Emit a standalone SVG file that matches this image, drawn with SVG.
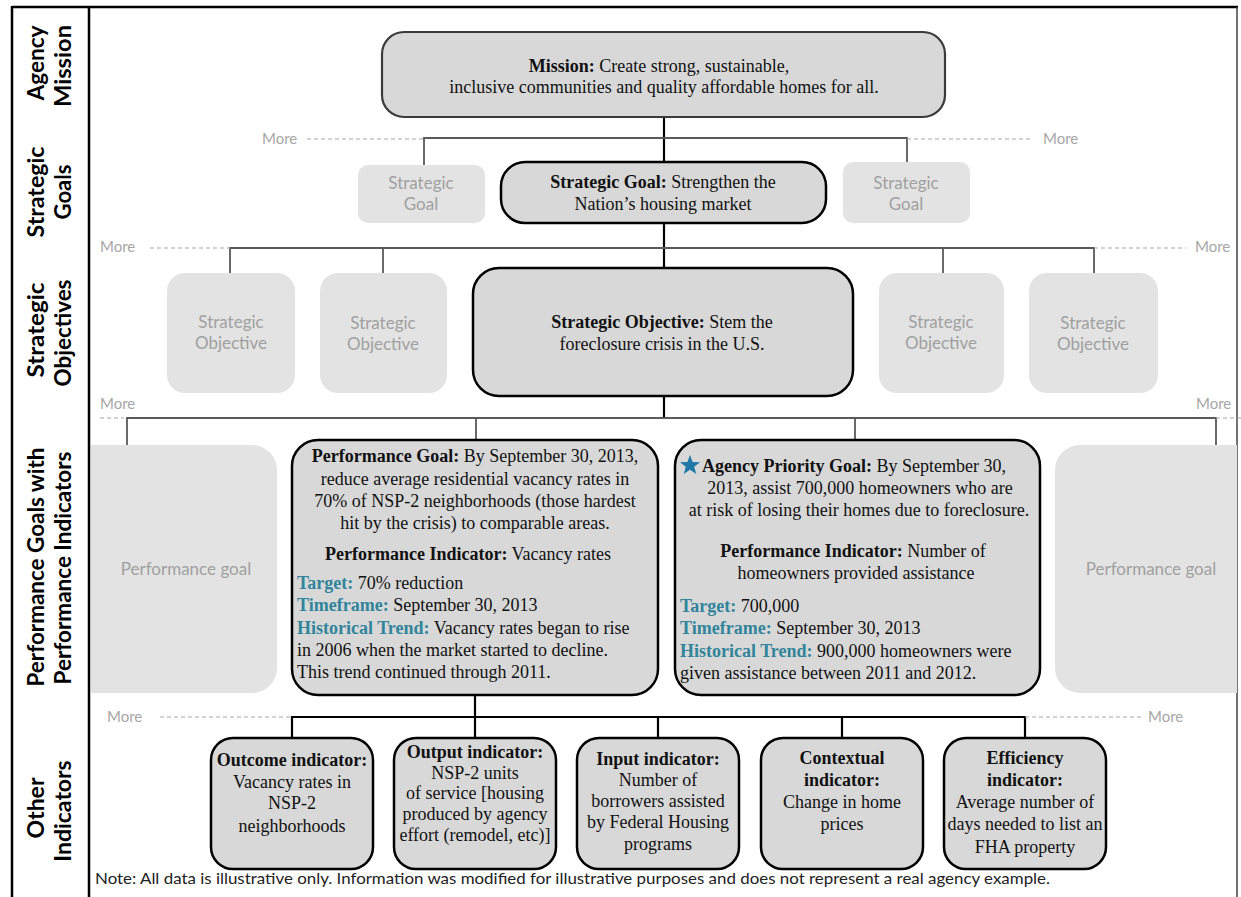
<svg xmlns="http://www.w3.org/2000/svg" width="1241" height="897" viewBox="0 0 1241 897">
<style>
.box{fill:#d8d8d8;stroke:#000;stroke-width:2.5}
.mbox{fill:#d8d8d8;stroke:#3a3a3a;stroke-width:2.2}
.ghost{fill:#e3e3e3}
.gt{font-family:Lato,'Open Sans',sans-serif;font-size:17px;fill:#a0a0a0;text-anchor:middle}
.s{font-family:'Liberation Serif','Times New Roman',serif;font-size:18px;fill:#111}
.c{text-anchor:middle}
.b{font-weight:bold}
.teal{fill:#31849B;font-weight:bold}
.more{font-family:Lato,'Open Sans',sans-serif;font-size:15px;fill:#a6a6a6}
.dash{stroke:#a6a6a6;stroke-width:1.2;stroke-dasharray:4 3;fill:none}
.conn{stroke:#5a5a5a;stroke-width:1.8;fill:none}
.trunk{stroke:#000;stroke-width:2.2;fill:none}
.lbl{font-family:Lato,'Open Sans',sans-serif;font-weight:bold;font-size:23px;fill:#000;text-anchor:middle}
.note{font-family:Lato,'Open Sans',sans-serif;font-size:15px;fill:#222}
</style>
<rect width="1241" height="897" fill="#fff"/>

<g id="frame">
<line x1="12" y1="7" x2="1238" y2="7" stroke="#000" stroke-width="2.5"/>
<line x1="12" y1="6" x2="12" y2="897" stroke="#000" stroke-width="2.5"/>
<line x1="89" y1="7" x2="89" y2="897" stroke="#000" stroke-width="2.5"/>
<line x1="1237" y1="7" x2="1237" y2="897" stroke="#444" stroke-width="1.5"/>
</g>

<g id="row-labels">
<text class="lbl" x="44" y="63" transform="rotate(-90 44 63)" textLength="75" lengthAdjust="spacingAndGlyphs">Agency</text>
<text class="lbl" x="71" y="66" transform="rotate(-90 71 66)" textLength="82" lengthAdjust="spacingAndGlyphs">Mission</text>
<text class="lbl" x="44" y="192" transform="rotate(-90 44 192)" textLength="91" lengthAdjust="spacingAndGlyphs">Strategic</text>
<text class="lbl" x="71" y="192" transform="rotate(-90 71 192)" textLength="55" lengthAdjust="spacingAndGlyphs">Goals</text>
<text class="lbl" x="44" y="330" transform="rotate(-90 44 330)" textLength="95" lengthAdjust="spacingAndGlyphs">Strategic</text>
<text class="lbl" x="71" y="333" transform="rotate(-90 71 333)" textLength="107" lengthAdjust="spacingAndGlyphs">Objectives</text>
<text class="lbl" x="44" y="567" transform="rotate(-90 44 567)" textLength="239" lengthAdjust="spacingAndGlyphs">Performance Goals with</text>
<text class="lbl" x="71" y="568" transform="rotate(-90 71 568)" textLength="233" lengthAdjust="spacingAndGlyphs">Performance Indicators</text>
<text class="lbl" x="44" y="808" transform="rotate(-90 44 808)">Other</text>
<text class="lbl" x="71" y="811" transform="rotate(-90 71 811)">Indicators</text>
</g>

<g id="connectors">
<path class="trunk" d="M664,117 V162 M664,223 V268 M664,396 V418"/>
<path class="conn" d="M424,165 V138 H907 V162"/>
<path class="conn" d="M230,273 V248 H1094 V273 M383,248 V273 M943,248 V273"/>
<path class="conn" d="M127,445 V418 H1216 V445 M476,418 V440 M855,418 V440"/>
<path class="trunk" d="M475,695 V738 M292,738 V717 H1025 V738 M658,717 V738 M842,717 V738" stroke-width="2.6"/>
<path class="dash" d="M307,139 H424 M907,139 H1030 M150,248 H230 M1094,248 H1186 M100,418 H124 M1216,418 H1241 M160,717 H292 M1025,717 H1142"/>
<text class="more" x="262" y="144">More</text>
<text class="more" x="1043" y="144">More</text>
<text class="more" x="100" y="252">More</text>
<text class="more" x="1195" y="252">More</text>
<text class="more" x="100" y="409">More</text>
<text class="more" x="1196" y="409">More</text>
<text class="more" x="107" y="722">More</text>
<text class="more" x="1148" y="722">More</text>
</g>

<g id="mission">
<rect class="mbox" x="382" y="32" width="563" height="85" rx="22"/>
<text class="s c" x="659" y="72"><tspan class="b">Mission:</tspan> Create strong, sustainable,</text>
<text class="s c" x="664" y="93">inclusive communities  and quality affordable homes for all.</text>
</g>

<g id="goal-left">
<rect class="ghost" x="358" y="165" width="127" height="58" rx="10"/>
<text class="gt" x="421" y="189">Strategic</text>
<text class="gt" x="421" y="210">Goal</text>
</g>
<g id="goal-main">
<rect class="box" x="501" y="162" width="325" height="61" rx="24"/>
<text class="s c" x="663" y="188"><tspan class="b">Strategic Goal:</tspan>  Strengthen the</text>
<text class="s c" x="663" y="210">Nation’s housing market</text>
</g>
<g id="goal-right">
<rect class="ghost" x="843" y="162" width="127" height="61" rx="10"/>
<text class="gt" x="906" y="189">Strategic</text>
<text class="gt" x="906" y="210">Goal</text>
</g>

<g id="obj-1">
<rect class="ghost" x="167" y="273" width="128" height="120" rx="18"/>
<text class="gt" x="231" y="328">Strategic</text>
<text class="gt" x="231" y="349">Objective</text>
</g>
<g id="obj-2">
<rect class="ghost" x="320" y="273" width="127" height="120" rx="18"/>
<text class="gt" x="383" y="329">Strategic</text>
<text class="gt" x="383" y="350">Objective</text>
</g>
<g id="obj-main">
<rect class="box" x="473" y="268" width="380" height="128" rx="26"/>
<text class="s c" x="662" y="328"><tspan class="b">Strategic Objective:</tspan>  Stem the</text>
<text class="s c" x="662" y="350">foreclosure crisis in the U.S.</text>
</g>
<g id="obj-4">
<rect class="ghost" x="879" y="273" width="125" height="120" rx="18"/>
<text class="gt" x="941" y="328">Strategic</text>
<text class="gt" x="941" y="349">Objective</text>
</g>
<g id="obj-5">
<rect class="ghost" x="1029" y="273" width="129" height="120" rx="18"/>
<text class="gt" x="1093" y="329">Strategic</text>
<text class="gt" x="1093" y="350">Objective</text>
</g>

<g id="pg-left">
<path class="ghost" d="M91,445 H252 A25,25 0 0 1 277,470 V668 A25,25 0 0 1 252,693 H91 Z"/>
<text class="gt" x="186" y="575">Performance goal</text>
</g>
<g id="pg-main">
<rect class="box" x="292" y="440" width="366" height="255" rx="26"/>
<text class="s c" x="475" y="462"><tspan class="b">Performance Goal:</tspan> By September 30, 2013,</text>
<text class="s c" x="475" y="485">reduce average residential vacancy rates in</text>
<text class="s c" x="475" y="507">70% of NSP-2 neighborhoods (those hardest</text>
<text class="s c" x="475" y="529">hit by the crisis) to comparable areas.</text>
<text class="s c" x="468" y="560"><tspan class="b">Performance Indicator:</tspan>  Vacancy rates</text>
<text class="s" x="297" y="589"><tspan class="teal">Target:</tspan> 70% reduction</text>
<text class="s" x="297" y="611"><tspan class="teal">Timeframe:</tspan>  September 30, 2013</text>
<text class="s" x="297" y="634"><tspan class="teal">Historical Trend:</tspan>  Vacancy rates began to rise</text>
<text class="s" x="297" y="656">in 2006  when the market  started to decline.</text>
<text class="s" x="297" y="678">This trend continued through 2011.</text>
</g>
<g id="apg-main">
<rect class="box" x="675" y="440" width="365" height="255" rx="26"/>
<polygon fill="#1f78a8" points="690,455 692.6,462 700,462.2 694.2,466.8 696.3,474 690,469.8 683.7,474 685.8,466.8 680,462.2 687.4,462"/>
<text class="s" x="702" y="472"><tspan class="b">Agency Priority Goal:</tspan>  By September 30,</text>
<text class="s c" x="860" y="494">2013,  assist 700,000 homeowners who are</text>
<text class="s c" x="859" y="516">at risk of losing their homes due to foreclosure.</text>
<text class="s c" x="853" y="557"><tspan class="b">Performance Indicator:</tspan>  Number of</text>
<text class="s c" x="856" y="579">homeowners provided assistance</text>
<text class="s" x="680" y="612"><tspan class="teal">Target:</tspan> 700,000</text>
<text class="s" x="680" y="634"><tspan class="teal">Timeframe:</tspan>  September 30, 2013</text>
<text class="s" x="680" y="657"><tspan class="teal">Historical Trend:</tspan>  900,000  homeowners were</text>
<text class="s" x="680" y="679">given assistance between 2011 and 2012.</text>
</g>
<g id="pg-right">
<path class="ghost" d="M1237,445 H1080 A25,25 0 0 0 1055,470 V668 A25,25 0 0 0 1080,693 H1237 Z"/>
<text class="gt" x="1151" y="575">Performance goal</text>
</g>

<g id="ind-outcome">
<rect class="box" x="211" y="738" width="162" height="131" rx="22"/>
<text class="s c b" x="292" y="766">Outcome indicator:</text>
<text class="s c" x="292" y="788">Vacancy rates in</text>
<text class="s c" x="292" y="809">NSP-2</text>
<text class="s c" x="292" y="832">neighborhoods</text>
</g>
<g id="ind-output">
<rect class="box" x="394" y="738" width="162" height="131" rx="22"/>
<text class="s c b" x="475" y="758">Output indicator:</text>
<text class="s c" x="475" y="779">NSP-2 units</text>
<text class="s c" x="475" y="799">of service [housing</text>
<text class="s c" x="475" y="820">produced by agency</text>
<text class="s c" x="475" y="841">effort (remodel, etc)]</text>
</g>
<g id="ind-input">
<rect class="box" x="577" y="738" width="162" height="131" rx="22"/>
<text class="s c b" x="658" y="765">Input indicator:</text>
<text class="s c" x="658" y="786">Number of</text>
<text class="s c" x="658" y="807">borrowers assisted</text>
<text class="s c" x="658" y="828">by Federal Housing</text>
<text class="s c" x="658" y="850">programs</text>
</g>
<g id="ind-contextual">
<rect class="box" x="761" y="738" width="162" height="131" rx="22"/>
<text class="s c b" x="842" y="764">Contextual</text>
<text class="s c b" x="842" y="786">indicator:</text>
<text class="s c" x="842" y="808">Change in home</text>
<text class="s c" x="842" y="830">prices</text>
</g>
<g id="ind-efficiency">
<rect class="box" x="944" y="738" width="162" height="131" rx="22"/>
<text class="s c b" x="1025" y="764">Efficiency</text>
<text class="s c b" x="1025" y="786">indicator:</text>
<text class="s c" x="1025" y="808">Average number of</text>
<text class="s c" x="1025" y="830">days needed to list an</text>
<text class="s c" x="1025" y="853">FHA property</text>
</g>

<text class="note" x="95" y="884" textLength="955" lengthAdjust="spacingAndGlyphs">Note: All data is illustrative only.  Information was modified for illustrative purposes and does not represent a real agency example.</text>
</svg>
